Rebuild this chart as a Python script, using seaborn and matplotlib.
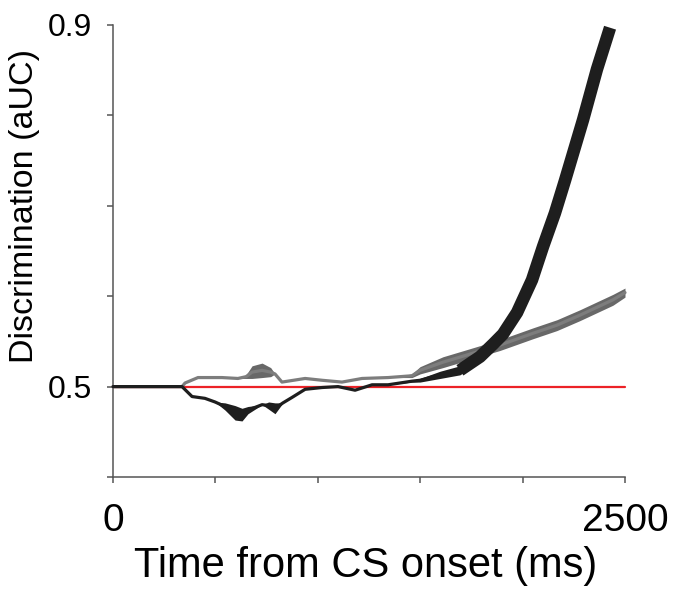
import numpy as np
import matplotlib
matplotlib.use("Agg")
from matplotlib import pyplot as plt
import seaborn as sns

# values (time in ms, discrimination in aUC)
gray_t = [0, 180, 337, 352, 415, 532, 610, 650, 679, 728, 770, 791, 825, 938,
          1021, 1118, 1216, 1343, 1460, 1499, 1611, 1729, 1890, 2051, 2168,
          2280, 2441, 2500]
gray_auc = [0.500, 0.500, 0.500, 0.504, 0.510, 0.510, 0.509, 0.511, 0.516,
            0.518, 0.516, 0.514, 0.505, 0.509, 0.507, 0.505, 0.509, 0.510,
            0.512, 0.518, 0.527, 0.535, 0.546, 0.559, 0.568, 0.579, 0.596,
            0.604]
gray_spread = [0, 0, 0, 0, 0, 0, 0, 0.002, 0.007, 0.008, 0.005, 0, 0, 0,
               0, 0, 0, 0, 0.002, 0.004, 0.006, 0.006, 0.006, 0.006, 0.006,
               0.006, 0.006, 0.005]

black_t = [0, 181, 337, 386, 449, 498, 547, 596, 630, 659, 728, 760, 791, 830,
           874, 938, 1021, 1099, 1182, 1265, 1343, 1460, 1499, 1597, 1694,
           1792, 1856, 1904, 1973, 2046, 2100, 2158, 2207, 2295, 2363, 2427]
black_auc = [0.500, 0.500, 0.500, 0.489, 0.487, 0.483, 0.478, 0.471, 0.469,
             0.474, 0.480, 0.479, 0.476, 0.482, 0.488, 0.497, 0.499, 0.500,
             0.496, 0.502, 0.502, 0.506, 0.507, 0.513, 0.518, 0.533, 0.547,
             0.558, 0.582, 0.618, 0.655, 0.692, 0.728, 0.795, 0.851, 0.897]
black_spread = [0, 0, 0, 0, 0, 0, 0.004, 0.008, 0.007, 0.004, 0, 0.004,
                0.006, 0, 0, 0, 0, 0, 0, 0, 0, 0.001, 0.002, 0.004, 0.005,
                0.006, 0, 0, 0, 0, 0, 0, 0, 0, 0, 0]

chance = 0.5
x_ticks = [0, 500, 1000, 1500, 2000, 2500]
x_labels = ["0", "", "", "", "", "2500"]
y_ticks = [0.4, 0.5, 0.6, 0.7, 0.8, 0.9]
y_labels = ["", "0.5", "", "", "", "0.9"]

sns.set_style("ticks")
plt.rcParams["font.family"] = ["Liberation Sans", "DejaVu Sans"]
plt.rcParams["text.color"] = "black"
plt.rcParams["axes.labelcolor"] = "black"
plt.rcParams["xtick.labelcolor"] = "black"
plt.rcParams["ytick.labelcolor"] = "black"

fig = plt.figure(figsize=(6.83, 5.94), dpi=100)
ax = fig.add_axes([113 / 683, 1 - 477 / 594, 512 / 683, 452 / 594])

ax.plot([0, 2500], [chance, chance], color="#ec2227", lw=1.6, zorder=1)

gt = np.array(gray_t)
gy = np.array(gray_auc)
gs = np.array(gray_spread)
ax.fill_between(gt, gy - gs, gy + gs, color="#686868", lw=0, zorder=2)
sns.lineplot(x=gt, y=gy, ax=ax, color="#7d7d7d", linewidth=2.3, zorder=3)

bt = np.array(black_t)
by = np.array(black_auc)
bs = np.array(black_spread)
n_low = black_t.index(1792) + 1
ax.fill_between(bt[:n_low], by[:n_low] - bs[:n_low], by[:n_low] + bs[:n_low],
                color="#1e1e1e", lw=0, zorder=4)
sns.lineplot(x=bt[:n_low], y=by[:n_low], ax=ax, color="#1e1e1e",
             linewidth=2.3, zorder=5)
sns.lineplot(x=bt[n_low - 2:], y=by[n_low - 2:], ax=ax,
             color="#1e1e1e", linewidth=9.0, zorder=5)
for ln in ax.lines:
    ln.set_clip_on(False)
    ln.set_solid_joinstyle("round")
ax.lines[-1].set_solid_capstyle("butt")

ax.set_xlim(0, 2500)
ax.set_ylim(0.4, 0.9)
ax.set_xticks(x_ticks)
ax.set_xticklabels(x_labels, fontsize=28)
ax.set_yticks(y_ticks)
ax.set_yticklabels(y_labels, fontsize=23)
ax.tick_params(axis="both", direction="out", length=4, width=1.1,
               color="#555555")
ax.tick_params(axis="x", pad=15)
ax.tick_params(axis="y", pad=11)

for side in ["top", "right"]:
    ax.spines[side].set_visible(False)
for side in ["left", "bottom"]:
    ax.spines[side].set_color("#555555")
    ax.spines[side].set_linewidth(1.1)

ax.set_xlabel("Time from CS onset (ms)", fontsize=30)
ax.set_ylabel("Discrimination (aUC)", fontsize=24.5)
ax.xaxis.set_label_coords(0.494, -0.152)
ax.yaxis.set_label_coords(-0.142, 0.60)

fig.savefig("out.png", dpi=100)
